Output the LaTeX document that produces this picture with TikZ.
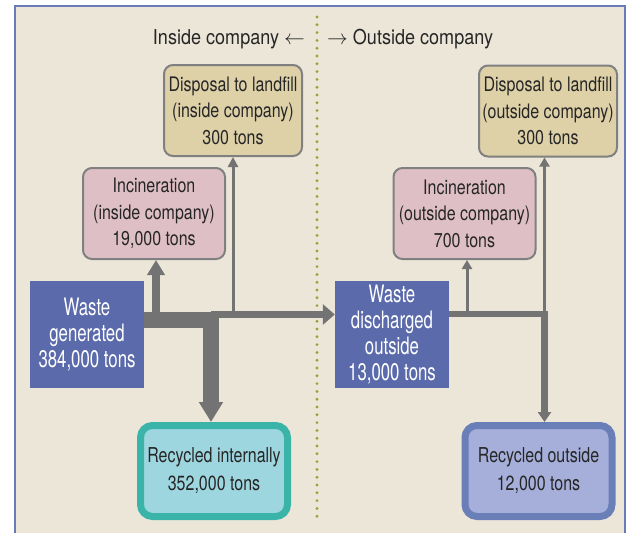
\documentclass[tikz,border=0pt]{standalone}
\usepackage{fontspec}
\setmainfont{TeX Gyre Heros}
\newfontfamily\boxfont[FakeStretch=0.8]{TeX Gyre Heros}
\newfontfamily\recfont[FakeStretch=0.78]{TeX Gyre Heros}
\newfontfamily\wastefont[FakeStretch=0.7]{TeX Gyre Heros}
\newfontfamily\titlefont[FakeStretch=0.88]{TeX Gyre Heros}
\usetikzlibrary{arrows.meta}

\definecolor{bg}{HTML}{ECE6D9}
\definecolor{frame}{HTML}{6B7BB8}
\definecolor{flow}{HTML}{737373}
\definecolor{wasteblue}{HTML}{5A6AAA}
\definecolor{sand}{HTML}{DED1A8}
\definecolor{rose}{HTML}{DFBFC6}
\definecolor{edge}{HTML}{808080}
\definecolor{tealedge}{HTML}{3AB4A8}
\definecolor{tealfill}{HTML}{9ED6DF}
\definecolor{lavedge}{HTML}{6A7EB8}
\definecolor{lavfill}{HTML}{A5AFDA}
\definecolor{olive}{HTML}{9CA23A}
\definecolor{ink}{HTML}{262626}

\tikzset{
  boxtext/.style={align=center, font={\boxfont\fontsize{20}{26.5}\selectfont}, text=ink, inner sep=0pt},
  roundbox/.style={boxtext, draw=edge, line width=2pt, rounded corners=9pt},
  landfill/.style={roundbox, fill=sand, minimum width=138pt, minimum height=91pt},
  incin/.style={roundbox, fill=rose, minimum width=142pt, minimum height=91pt},
  waste/.style={fill=wasteblue, text=white, align=center, inner sep=0pt,
    font={\wastefont\fontsize{24}{26}\selectfont}, minimum width=114pt, minimum height=107pt},
  recyc/.style={boxtext, font={\recfont\fontsize{20.5}{28}\selectfont}, line width=7pt,
    rounded corners=12pt, minimum width=147pt, minimum height=91pt},
  flowline/.style={draw=flow, line join=miter},
  heading/.style={font={\titlefont\fontsize{20.5}{24}\selectfont}, text=ink, inner sep=0pt},
}

\begin{document}
\begin{tikzpicture}[x=1pt,y=-1pt]
\useasboundingbox (0,0) rectangle (629,533);

% panel background and frame (open at the bottom)
\fill[bg] (15,6) rectangle (625,533);
\draw[frame, line width=1.5pt] (15,533) -- (15,6) -- (625,6) -- (625,533);

% boundary between inside and outside the company
\draw[olive, line width=3.2pt, line cap=round, dash pattern=on 0pt off 7.8pt] (317,17) -- (317,522);

\node[heading, anchor=base east] (hin) at (305,44) {Inside company $\leftarrow$};
\node[heading, anchor=base west] (hout) at (327,44) {$\rightarrow$ Outside company};

% inside company
\node[landfill] (dlin) at (233,110.5) {Disposal to landfill\\(inside company)\\300 tons};
\node[incin] (incin) at (154,213.5) {Incineration\\(inside company)\\19,000 tons};
\node[waste] (wg) at (87,334.5) {Waste\\generated\\384,000 tons};
\node[recyc, draw=tealedge, fill=tealfill] (rin) at (214,471) {Recycled internally\\352,000 tons};

% outside company
\node[landfill] (dlout) at (548,111) {Disposal to landfill\\(outside company)\\300 tons};
\node[incin] (incout) at (464.5,213.5) {Incineration\\(outside company)\\700 tons};
\node[waste] (wo) at (392,334.5) {Waste\\discharged\\outside\\13,000 tons};
\node[recyc, draw=lavedge, fill=lavfill] (rout) at (538.5,471) {Recycled outside\\12,000 tons};

% flows inside the company
\coordinate (jin) at (211,319.5);
\coordinate (jtop) at (211,314.5);
\coordinate (ain) at (156,319);
\coordinate (lin) at (233,314);
\draw[flowline, line width=7pt, -{Triangle[width=20pt,length=12pt]}] (jtop) -- (wo.west |- jtop);
\draw[flowline, line width=8pt, -{Triangle[width=17pt,length=15pt]}] (ain) -- (ain |- incin.south);
\draw[flowline, line width=3pt, -{Triangle[width=10pt,length=10pt]}] (lin) -- (lin |- dlin.south);
\draw[flowline, line width=16pt, -{Triangle[width=23pt,length=20pt]}] (wg.east |- jin) -- (jin) -- (jin |- rin.north);

% flows outside the company
\coordinate (jout) at (544.5,314);
\coordinate (aout) at (467,314);
\draw[flowline, line width=3pt, -{Triangle[width=10pt,length=9pt]}] (aout) -- (aout |- incout.south);
\draw[flowline, line width=3pt, -{Triangle[width=10pt,length=9pt]}] (jout) -- (jout |- dlout.south);
\draw[flowline, line width=6.5pt, -{Triangle[width=13pt,length=10pt]}] (wo.east |- jout) -- (jout) -- (jout |- rout.north);
\end{tikzpicture}
\end{document}
